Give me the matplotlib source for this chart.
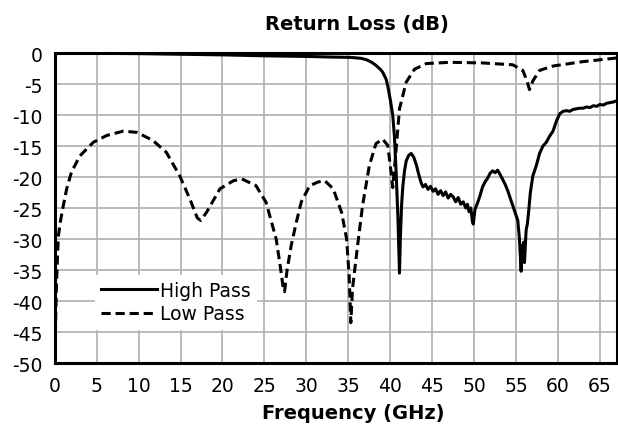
import matplotlib
matplotlib.use("Agg")
import matplotlib.pyplot as plt

plt.rcParams["axes.unicode_minus"] = False

# High Pass return loss (GHz, dB)
hp_freq = [0, 5, 10, 15, 20, 25, 30, 33, 35.2, 36.5, 37.2, 37.8, 38.3, 38.8, 39.1, 39.5, 39.7, 40.0, 40.3,
           40.5, 40.7, 40.9, 41.05, 41.1, 41.2, 41.35, 41.5, 41.7, 41.9, 42.2, 42.5, 42.8, 43.1, 43.4, 43.7,
           43.9, 44.2, 44.5, 44.8, 45.1, 45.4, 45.7, 46.0, 46.3, 46.6, 46.9, 47.2, 47.5, 47.8, 48.1, 48.4,
           48.7, 49.0, 49.2, 49.4, 49.6, 49.8, 49.9, 50.1, 50.4, 50.7, 51.0, 51.3, 51.6, 51.9, 52.2, 52.5,
           52.8, 53.1, 53.4, 53.7, 54.0, 54.3, 54.6, 54.9, 55.2, 55.4, 55.6, 55.7, 55.8, 55.9, 56.0, 56.1,
           56.2, 56.35, 56.5, 56.7, 57.0, 57.4, 57.8, 58.2, 58.6, 59.0, 59.4, 59.8, 60.2, 60.6, 61.0, 61.4,
           61.8, 62.2, 62.6, 63.0, 63.4, 63.8, 64.2, 64.6, 65.0, 65.4, 65.8, 66.2, 66.6, 67.0]
hp_rl = [0, -0.05, -0.1, -0.2, -0.3, -0.45, -0.55, -0.65, -0.7, -0.85, -1.1, -1.5, -2.0, -2.6, -3.1, -4.2, -5.3,
         -7.5, -10.1, -13.5, -19.2, -26.0, -33.0, -35.5, -30.0, -24.5, -21.5, -19.0, -17.4, -16.5, -16.2, -16.8,
         -18.0, -19.6, -21.0, -21.6, -21.2, -22.0, -21.5, -22.3, -21.9, -22.8, -22.2, -23.0, -22.4, -23.4,
         -22.8, -23.2, -24.0, -23.3, -24.4, -24.0, -25.0, -24.4, -25.6, -25.0, -27.2, -27.6, -25.2, -24.2,
         -23.0, -21.6, -20.8, -20.2, -19.4, -19.0, -19.3, -18.9, -19.6, -20.4, -21.2, -22.2, -23.4, -24.6,
         -25.8, -27.0, -30.0, -35.2, -31.0, -33.5, -30.5, -33.8, -31.0, -28.5, -27.5, -25.5, -22.5, -19.8,
         -18.2, -16.2, -15.0, -14.4, -13.4, -12.6, -11.0, -9.8, -9.4, -9.3, -9.4, -9.1, -9.0, -8.9, -8.9,
         -8.7, -8.8, -8.5, -8.6, -8.3, -8.4, -8.1, -8.0, -7.9, -7.7]

# Low Pass return loss (GHz, dB)
lp_freq = [0, 0.1, 0.2, 0.3, 0.44, 0.7, 1.03, 1.43, 2.0, 3.0, 4.6, 6.2, 8.2, 9.8, 11.7, 13.3, 14.9, 16.1, 17.0,
           17.4, 18.1, 19.7, 21.3, 22.3, 24.0, 25.2, 26.4, 26.9, 27.2, 27.4, 27.7, 28.2, 28.8, 29.4, 30.4,
           31.4, 32.2, 33.2, 34.2, 34.8, 35.1, 35.3, 35.5, 36.2, 36.7, 37.5, 38.3, 39.1, 39.7, 40.1, 40.3,
           40.7, 41.1, 41.9, 42.9, 44.3, 47.1, 51.0, 54.6, 55.8, 56.3, 56.6, 57.0, 57.8, 59.4, 62.9, 67.0]
lp_rl = [-50, -44, -38, -34, -29.5, -27, -24.6, -21.9, -19.2, -16.6, -14.4, -13.3, -12.6, -12.8, -14.1, -16.0,
         -19.8, -23.5, -26.6, -27.0, -25.7, -21.9, -20.6, -20.3, -21.4, -24.1, -30.0, -34.5, -37.5, -38.5,
         -35.0, -31.0, -27.3, -24.0, -21.4, -20.8, -20.6, -21.9, -25.7, -30.0, -36.0, -43.5, -38.0, -30.0,
         -24.6, -18.2, -14.6, -13.9, -14.9, -19.2, -21.7, -15.5, -9.0, -4.7, -2.6, -1.7, -1.5, -1.6, -1.9,
         -2.8, -4.5, -5.9, -4.5, -2.8, -2.1, -1.4, -0.8]

x_ticks = list(range(0, 70, 5))
y_ticks = list(range(-50, 1, 5))

fig = plt.figure(figsize=(6.18, 4.27), dpi=100)
ax = fig.add_axes([0.0885, 0.1475, 0.9095, 0.726])

ax.plot(hp_freq, hp_rl, color="black", linewidth=2.2, label="High Pass", zorder=3)
ax.plot(lp_freq, lp_rl, color="black", linewidth=2.2, linestyle=(0, (3, 1.6)), label="Low Pass", zorder=3)

ax.set_xlim(0, 67)
ax.set_ylim(-50, 0)
ax.set_xticks(x_ticks)
ax.set_yticks(y_ticks)
ax.tick_params(length=0, labelsize=13.5, pad=9)
ax.grid(True, color="#b4b4b4", linewidth=1.3)
ax.set_axisbelow(True)
for s in ax.spines.values():
    s.set_linewidth(2.2)

leg = ax.legend(loc="lower left", bbox_to_anchor=(0.055, 0.08), fontsize=13.5, frameon=True,
                handlelength=3.0, handletextpad=0.15, borderpad=0.3, labelspacing=0.25,
                fancybox=False, edgecolor="white", framealpha=1)

fig.text(0.578, 0.93, "Return Loss (dB)", ha="center", va="baseline", fontsize=14, fontweight="bold")
fig.text(0.572, 0.019, "Frequency (GHz)", ha="center", va="baseline", fontsize=14, fontweight="bold")

fig.savefig("out.png", dpi=100)
